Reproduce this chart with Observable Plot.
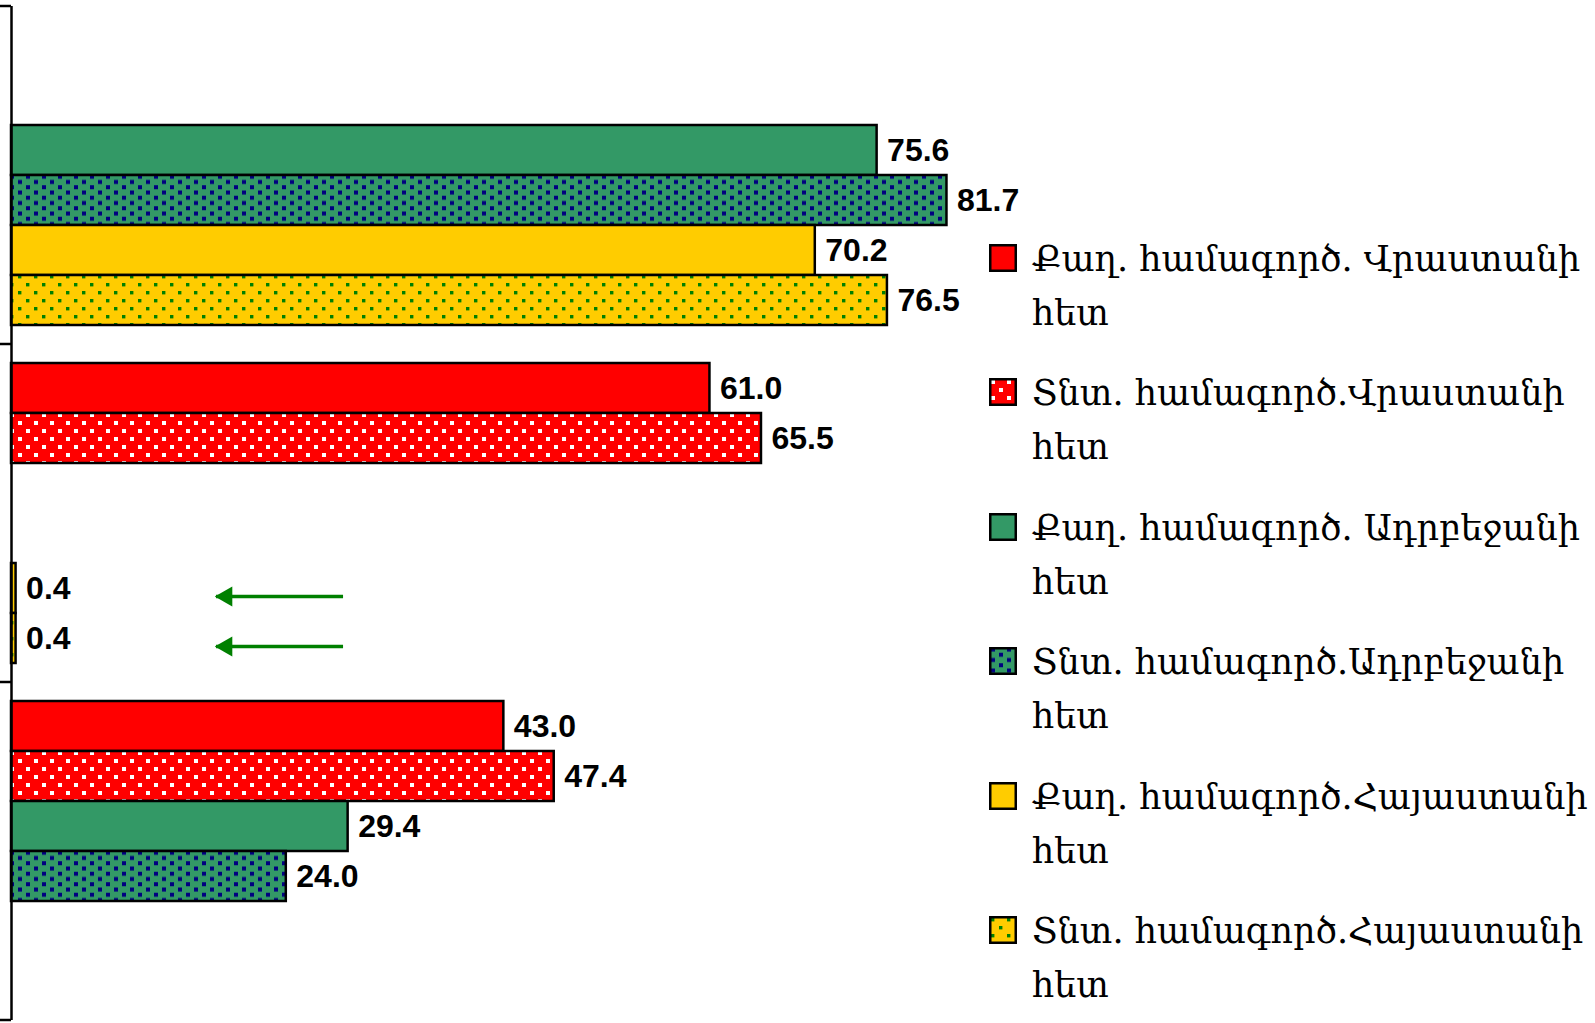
<!DOCTYPE html>
<html><head><meta charset="utf-8">
<script src="https://cdn.jsdelivr.net/npm/d3@7"></script>
<script src="https://cdn.jsdelivr.net/npm/@observablehq/plot@0.6"></script>
<style>
html,body{margin:0;padding:0;background:#fff;}
#wrap{position:relative;width:1595px;height:1023px;overflow:hidden;background:#fff;}
.sw{position:absolute;left:989px;width:28px;height:28px;}
.lab{position:absolute;left:1032px;font-family:"DejaVu Serif",serif;font-size:35px;line-height:54px;white-space:nowrap;color:#000;}
</style></head>
<body><div id="wrap"></div>
<script>
// ---- data ----
const groups = ["Վրաստան", "Ադրբեջան", "Հայաստան"];
const seriesNames = [
  "Քաղ. համագործ. Վրաստանի հետ",
  "Տնտ. համագործ.Վրաստանի հետ",
  "Քաղ. համագործ. Ադրբեջանի հետ",
  "Տնտ. համագործ.Ադրբեջանի հետ",
  "Քաղ. համագործ.Հայաստանի հետ",
  "Տնտ. համագործ.Հայաստանի հետ"
];
const valuesGeorgia    = [null, null, 75.6, 81.7, 70.2, 76.5];
const valuesAzerbaijan = [61.0, 65.5, null, null, 0.4, 0.4];
const valuesArmenia    = [43.0, 47.4, 29.4, 24.0, null, null];
const seriesFills = ["#ff0000", "url(#pRed)", "#339966", "url(#pGreen)", "#ffcc00", "url(#pYellow)"];
const arrowGroup = "Ադրբեջան";
const arrowSeries = [seriesNames[4], seriesNames[5]];
const arrowFrom = 29.0;
const arrowTo = 17.9;

// ---- build tables ----
const valuesByGroup = [valuesGeorgia, valuesAzerbaijan, valuesArmenia];
const rows = [];
groups.forEach((g, gi) => {
  seriesNames.forEach((s, si) => {
    const v = valuesByGroup[gi][si];
    if (v != null) rows.push({group: g, series: s, value: v});
  });
});
const arrows = arrowSeries.map(s => ({group: arrowGroup, series: s, x1: arrowFrom, x2: arrowTo}));

const plot = Plot.plot({
  width: 1595, height: 1023,
  marginLeft: 11, marginRight: 439, marginTop: 5, marginBottom: 3,
  style: {fontFamily: "'Liberation Sans', Arial, sans-serif", background: "#fff", overflow: "visible"},
  x: {domain: [0, 100], axis: null},
  y: {domain: seriesNames, axis: null, paddingInner: 0, paddingOuter: 0.36},
  fy: {domain: groups, axis: null, padding: 0},
  color: {domain: seriesNames, range: seriesFills},
  marks: [
    Plot.barX(rows, {x: "value", y: "series", fy: "group", fill: "series", stroke: "#000", strokeWidth: 2.5}),
    Plot.text(rows, {x: "value", y: "series", fy: "group", text: d => d3.format(".1f")(d.value),
      textAnchor: "start", dx: 10, dy: 0, fontSize: 32, fontWeight: "bold", fill: "#000"}),
    Plot.ruleY(arrows, {y: "series", fy: "group", x1: "x1", x2: "x2", stroke: "#008000", strokeWidth: 3.6, dy: 8}),
    Plot.dot(arrows, {x: "x2", y: "series", fy: "group", symbol: "triangle", rotate: -90, r: 7.5,
      fill: "#008000", stroke: "none", dx: 10, dy: 8}),
    Plot.ruleX([0], {stroke: "#000", strokeWidth: 2.5})
  ]
});

// patterns
const svg = d3.select(plot);
const defs = svg.insert("defs", ":first-child");
function pattern(id, w, h, bg, dot, ds, pts) {
  const p = defs.append("pattern").attr("id", id).attr("patternUnits", "userSpaceOnUse")
    .attr("width", w).attr("height", h);
  p.append("rect").attr("width", w).attr("height", h).attr("fill", bg);
  pts.forEach(([x, y]) => p.append("rect").attr("x", x).attr("y", y).attr("width", ds).attr("height", ds).attr("fill", dot));
}
pattern("pRed", 16, 16, "#ff0000", "#ffffff", 4, [[2, 2], [10, 10]]);
pattern("pGreen", 16, 10.5, "#339966", "#000080", 4, [[2, 0.5], [10, 5.75]]);
pattern("pYellow", 16, 16, "#ffcc00", "#008000", 3.4, [[2, 2], [10, 10]]);

// category axis ticks at band boundaries
const fy = plot.scale("fy");
const xs = plot.scale("x");
const bounds = groups.map(g => fy.apply(g)).concat([fy.apply(groups[groups.length - 1]) + fy.bandwidth]);
svg.append("g").selectAll("line").data(bounds).join("line")
  .attr("x1", 0).attr("x2", xs.apply(0)).attr("y1", d => d).attr("y2", d => d)
  .attr("stroke", "#000").attr("stroke-width", 2.5);

const wrap = document.getElementById("wrap");
wrap.appendChild(plot);

// legend
seriesNames.forEach((s, i) => {
  const c = 258 + i * 134.4;
  const sw = document.createElementNS("http://www.w3.org/2000/svg", "svg");
  sw.setAttribute("class", "sw");
  sw.style.top = (c - 14) + "px";
  sw.setAttribute("width", 28); sw.setAttribute("height", 28);
  const r = document.createElementNS("http://www.w3.org/2000/svg", "rect");
  r.setAttribute("x", 1.25); r.setAttribute("y", 1.25); r.setAttribute("width", 25.5); r.setAttribute("height", 25.5);
  r.setAttribute("fill", seriesFills[i]); r.setAttribute("stroke", "#000"); r.setAttribute("stroke-width", 2.5);
  sw.appendChild(r);
  wrap.appendChild(sw);
  const k = s.lastIndexOf(" ");
  const lab = document.createElement("div");
  lab.className = "lab";
  lab.style.top = (c - 26) + "px";
  lab.appendChild(document.createTextNode(s.slice(0, k)));
  lab.appendChild(document.createElement("br"));
  lab.appendChild(document.createTextNode(s.slice(k + 1)));
  wrap.appendChild(lab);
});
</script>
</body></html>
